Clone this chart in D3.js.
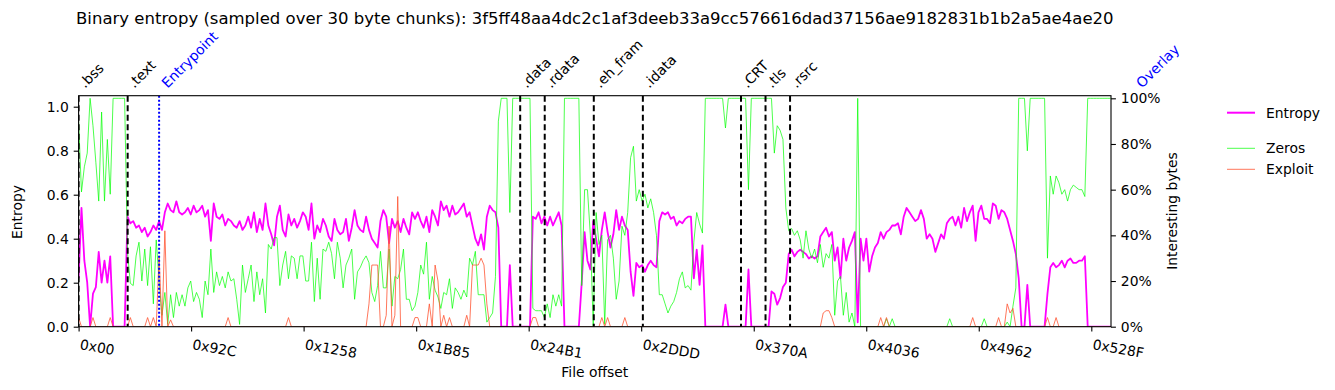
<!DOCTYPE html>
<html>
<head>
<meta charset="utf-8">
<script src="https://cdn.jsdelivr.net/npm/d3@7"></script>
<style>
  body { margin: 0; background: #fff; }
  svg text { font-family: "DejaVu Sans", sans-serif; fill: #000; }
</style>
</head>
<body>
<svg id="chart" width="1335" height="390"></svg>
<script>
var title = "Binary entropy (sampled over 30 byte chunks): 3f5ff48aa4dc2c1af3deeb33a9cc576616dad37156ae9182831b1b2a5ae4ae20";

// one point every 2 chunks of 30 bytes
var chunkStep = 60;
var fileEnd = 21546;

var entropy = [
  0.22,0.54,0.30,0.20,0.00,0.15,0.18,0.34,0.20,0.30,
  0.20,0.32,0,0,0,0,0,0.50,0.47,0.48,
  0.45,0.46,0.43,0.45,0.41,0.43,0.46,0.44,0.48,0.44,
  0.52,0.56,0.53,0.52,0.57,0.52,0.51,0.52,0.54,0.51,
  0.55,0.52,0.53,0.55,0.50,0.53,0.39,0.56,0.50,0.49,
  0.51,0.46,0.49,0.48,0.46,0.45,0.48,0.44,0.46,0.50,
  0.45,0.52,0.43,0.49,0.44,0.56,0.46,0.42,0.37,0.50,
  0.55,0.44,0.41,0.51,0.46,0.49,0.45,0.48,0.52,0.50,
  0.44,0.56,0.40,0.46,0.43,0.49,0.46,0.41,0.39,0.49,
  0.44,0.42,0.43,0.49,0.39,0.45,0.53,0.46,0.44,0.43,
  0.50,0.44,0.40,0.38,0.36,0.48,0.53,0.50,0.38,0.49,
  0.45,0.48,0.43,0.49,0.45,0.42,0.52,0.49,0.52,0.48,
  0.45,0.50,0.43,0.53,0.50,0.46,0.57,0.53,0.55,0.50,
  0.55,0.51,0.52,0.54,0.56,0.50,0.52,0.46,0.40,0.37,
  0.42,0.35,0.50,0.55,0.53,0.52,0.45,0,0,0,
  0.28,0,0,0,0,0,0,0,0.50,0.49,
  0.52,0.47,0.50,0.46,0.50,0.46,0.49,0.52,0.46,0,
  0,0,0,0,0,0.20,0.43,0.30,0.26,0.48,
  0.40,0.32,0.44,0.52,0.43,0.36,0.42,0.53,0.44,0.50,
  0.46,0.44,0.25,0.14,0.29,0.27,0.28,0.25,0.28,0.30,
  0.28,0.27,0.48,0.52,0.51,0.52,0.49,0.50,0.46,0.48,
  0.47,0.49,0.50,0.50,0.22,0.35,0.19,0.37,0,0,
  0,0,0,0,0,0.10,0,0,0,0,
  0,0,0,0.26,0,0,0,0,0,0,
  0,0.16,0.15,0.10,0.13,0.18,0.20,0.33,0.35,0.32,
  0.34,0.35,0.34,0.33,0.31,0.32,0.31,0.32,0.41,0.43,
  0.45,0.41,0.43,0.30,0.36,0.22,0.40,0.30,0.36,0.39,
  0.43,0.02,0.40,0.30,0.40,0.25,0.32,0.36,0.38,0.43,
  0.40,0.43,0.44,0.46,0.46,0.47,0.42,0.50,0.54,0.52,
  0.50,0.48,0.49,0.53,0.49,0.40,0.42,0.40,0.34,0.38,
  0.42,0.40,0.47,0.49,0.50,0.46,0.50,0.45,0.54,0.48,
  0.52,0.55,0.39,0.52,0.55,0.49,0.49,0.47,0.56,0.55,
  0.49,0.53,0.52,0.49,0.44,0.39,0.33,0.22,0,0,
  0.19,0,0,0,0,0,0,0.15,0.27,0.29,
  0.27,0.28,0.30,0.27,0.30,0.31,0.29,0.29,0.30,0.30,
  0.32,0,0,0,0,0,0,0,0,0
];

var zeros = [
  0.90,0.59,0.70,0.76,1.00,0.88,0.72,0.55,0.94,0.55,
  0.82,0.58,1,1,1,1,1,0.33,0.19,0.18,
  0.31,0.37,0.20,0.34,0.18,0.35,0.10,0.38,0.20,0.05,
  0.15,0.01,0.14,0.04,0.15,0.09,0.14,0.09,0.17,0.20,
  0.11,0.15,0.12,0.04,0.20,0.14,0.34,0.15,0.24,0.18,
  0.22,0.17,0.24,0.20,0.21,0.12,0.01,0.27,0.15,0.21,
  0.27,0.11,0.24,0.14,0.21,0.06,0.36,0.34,0.39,0.39,
  0.18,0.27,0.33,0.21,0.31,0.30,0.21,0.31,0.31,0.20,
  0.20,0.37,0.11,0.30,0.12,0.34,0.33,0.37,0.32,0.21,
  0.37,0.30,0.17,0.27,0.30,0.34,0.12,0.24,0.26,0.29,
  0.31,0.28,0.15,0.11,0.18,0.33,0.17,0.17,0.34,0.09,
  0.22,0.21,0.25,0.34,0.12,0.12,0.07,0.09,0.15,0.27,
  0.23,0.37,0.12,0.22,0.16,0.13,0.08,0.15,0.14,0.21,
  0.08,0.17,0.15,0.12,0.16,0.13,0.30,0.27,0.33,0.14,
  0.14,0.14,0.02,0.04,0.06,0.22,0.90,1,1,1,
  0.50,1,1,1,1,1,1,1,0.08,0.07,
  0.07,0.07,0.04,0.10,0.04,0.14,0.09,0.14,0.09,1,
  1,1,1,1,1,0.18,0.60,0.60,0.40,0.00,
  0.50,0.36,0.40,0.01,0.38,0.40,0.30,0.12,0.20,0.44,
  0.40,0.50,0.74,0.79,0.55,0.60,0.55,0.58,0.52,0.56,
  0.50,0.40,0.14,0.14,0.10,0.06,0.09,0.11,0.15,0.21,
  0.24,0.17,0.18,0.16,0.37,0.50,0.45,0.41,1,1,
  1,1,1,1,1,0.87,1,1,1,1,
  1,1,1,0.60,1,1,1,1,1,1,
  1,1,0.76,0.88,0.86,0.82,0.52,0.42,0.43,0.40,
  0.42,0.38,0.30,0.42,0.34,0.30,0.34,0.28,0.36,0.26,
  0.32,0.30,0.36,0.05,0.20,0.22,0.05,0.15,0.02,0.06,
  0,1,0,0,0,0,0,0,0,0,
  0,0.035,0,0.035,0,0,0,0,0,0,
  0,0,0,0,0,0,0,0,0,0,
  0,0,0,0.035,0,0,0,0,0,0,
  0,0,0,0,0,0.035,0,0,0,0,
  0,0,0,0.02,0,0.09,0.17,1,1,1,
  0.77,1,1,1,1,1,1,0.30,0.66,0.58,
  0.66,0.63,0.58,0.60,0.55,0.60,0.62,0.61,0.60,0.60,
  0.57,1,1,1,1,1,1,1,1,1
];

var exploit = [
  0.04,0,0,0,0,0.04,0,0,0,0,
  0,0.04,0,0,0,0,0,0,0.04,0,
  0,0,0,0,0.04,0,0.04,0,0.31,0,
  0.42,0,0.03,0,0,0,0,0,0,0,
  0,0,0,0,0,0,0,0,0,0,
  0,0,0.04,0,0,0,0,0,0,0,
  0,0,0,0,0,0,0,0,0,0,
  0,0,0,0.04,0,0,0,0,0,0,
  0,0,0,0,0,0,0,0,0,0,
  0,0,0,0,0,0,0,0,0,0,
  0,0.10,0.27,0.27,0.27,0,0,0.05,0.44,0,
  0.05,0.57,0,0,0,0,0,0.04,0.04,0,
  0,0,0.10,0,0.27,0.20,0,0.05,0,0.04,
  0,0,0,0,0,0.05,0,0.27,0.27,0.27,
  0.30,0.27,0.10,0,0,0,0,0,0,0,
  0,0,0,0,0,0,0,0,0.04,0.04,
  0,0,0,0,0,0,0,0,0,0,
  0,0,0,0,0,0,0,0,0,0,
  0,0,0.04,0,0.04,0,0,0,0,0,
  0.04,0,0,0,0,0,0,0,0,0,
  0,0,0,0,0,0,0,0,0,0,
  0,0,0,0,0,0,0,0,0,0,
  0,0,0,0,0,0,0,0,0,0,
  0,0,0,0,0,0,0,0,0,0,
  0,0,0,0,0,0,0,0,0,0,
  0,0,0,0,0,0,0,0,0,0.06,
  0.07,0.07,0.04,0,0,0,0,0,0,0,
  0,0,0,0,0,0,0,0,0,0.04,
  0,0.04,0,0,0,0,0,0,0,0,
  0,0,0,0,0,0,0,0,0,0,
  0,0,0,0,0,0,0,0,0,0,
  0,0.04,0,0,0,0,0,0,0,0,
  0.04,0,0,0.10,0.06,0.08,0,0,0,0,
  0,0,0,0,0,0,0,0.04,0,0,
  0.04,0,0,0,0,0,0,0,0,0,
  0,0,0,0,0,0,0,0,0,0
];

var xTickValues = [0, 2348, 4696, 7045, 9393, 11741, 14090, 16438, 18786, 21135];
var xTickLabels = ["0x00", "0x92C", "0x1258", "0x1B85", "0x24B1", "0x2DDD", "0x370A", "0x4036", "0x4962", "0x528F"];
var entropyTicks = [0, 0.2, 0.4, 0.6, 0.8, 1.0];
var percentTicks = [0, 0.2, 0.4, 0.6, 0.8, 1.0];

var sectionNames = [".bss", ".text", ".data", ".rdata", ".eh_fram", ".idata", ".CRT", ".tls", ".rsrc"];
var sectionOffsets = [0x0, 0x400, 0x2400, 0x2600, 0x2A00, 0x2E00, 0x3600, 0x3800, 0x3A00];
var markerNames = ["Entrypoint", "Overlay"];
var markerOffsets = [0x690, 0x5600];

var legendNames = ["Entropy", "Zeros", "Exploit"];

(function() {
  var svg = d3.select("#chart");
  var left = 78.6, right = 1111, top = 95.7, bottom = 326.7;
  var tickFont = 13.9;

  var x = d3.scaleLinear().domain([0, fileEnd]).range([left, right]);
  var yLeft = d3.scaleLinear().domain([0, 1.05]).range([bottom, top]);
  var yRight = d3.scaleLinear().domain([0, 1.0114]).range([bottom, top]);

  svg.append("defs").append("clipPath").attr("id", "plot")
    .append("rect")
    .attr("x", left).attr("y", top)
    .attr("width", right - left).attr("height", bottom - top);

  // title
  svg.append("text")
    .attr("x", (left + right) / 2)
    .attr("y", 24)
    .attr("text-anchor", "middle")
    .style("font-size", "16.5px")
    .text(title);

  var plot = svg.append("g").attr("clip-path", "url(#plot)");

  function series(yScale) {
    return d3.line()
      .x(function(d, i) { return x(i * chunkStep); })
      .y(function(d) { return yScale(d); });
  }

  plot.append("path")
    .attr("d", series(yLeft)(entropy))
    .attr("fill", "none")
    .attr("stroke", "#ff00ff")
    .attr("stroke-width", 1.8)
    .attr("stroke-linejoin", "round");

  plot.append("path")
    .attr("d", series(yRight)(zeros))
    .attr("fill", "none")
    .attr("stroke", "#00ff00")
    .attr("stroke-opacity", 0.7)
    .attr("stroke-width", 1)
    .attr("stroke-linejoin", "round");

  plot.append("path")
    .attr("d", series(yRight)(exploit))
    .attr("fill", "none")
    .attr("stroke", "#ff5533")
    .attr("stroke-opacity", 0.8)
    .attr("stroke-width", 1)
    .attr("stroke-linejoin", "round");

  // section boundaries
  plot.selectAll("line.section")
    .data(sectionOffsets)
    .enter()
    .append("line")
    .attr("class", "section")
    .attr("x1", function(d) { return x(d); })
    .attr("x2", function(d) { return x(d); })
    .attr("y1", top).attr("y2", bottom)
    .attr("stroke", "#000")
    .attr("stroke-width", 2)
    .attr("stroke-dasharray", "6,3.5");

  plot.selectAll("line.marker")
    .data(markerOffsets)
    .enter()
    .append("line")
    .attr("class", "marker")
    .attr("x1", function(d) { return x(d); })
    .attr("x2", function(d) { return x(d); })
    .attr("y1", top).attr("y2", bottom)
    .attr("stroke", "#0000ff")
    .attr("stroke-width", 2)
    .attr("stroke-dasharray", "2,2");

  // frame
  svg.append("rect")
    .attr("x", left).attr("y", top)
    .attr("width", right - left).attr("height", bottom - top)
    .attr("fill", "none")
    .attr("stroke", "#000")
    .attr("stroke-width", 1.1);

  // section labels
  svg.selectAll("text.section")
    .data(sectionNames)
    .enter()
    .append("text")
    .attr("class", "section")
    .attr("transform", function(d, i) {
      return "translate(" + (x(sectionOffsets[i]) + 6.5) + "," + (top - 7) + ") rotate(-45)";
    })
    .style("font-size", tickFont + "px")
    .text(function(d) { return d; });

  svg.selectAll("text.marker")
    .data(markerNames)
    .enter()
    .append("text")
    .attr("class", "marker")
    .attr("transform", function(d, i) {
      return "translate(" + (x(markerOffsets[i]) + 8.5) + "," + (top - 7) + ") rotate(-45)";
    })
    .style("font-size", tickFont + "px")
    .style("fill", "#0000ff")
    .text(function(d) { return d; });

  // axes
  var xAxis = svg.append("g")
    .attr("transform", "translate(0," + bottom + ")")
    .call(d3.axisBottom(x)
      .tickValues(xTickValues)
      .tickFormat(function(d, i) { return xTickLabels[i]; })
      .tickSize(4.9));
  xAxis.selectAll("text")
    .attr("y", 10.1)
    .attr("dy", null)
    .attr("x", 0)
    .attr("text-anchor", "start")
    .attr("transform", "translate(2,12.3) rotate(10)");

  var yAxisLeft = svg.append("g")
    .attr("transform", "translate(" + left + ",0)")
    .call(d3.axisLeft(yLeft)
      .tickValues(entropyTicks)
      .tickFormat(d3.format(".1f"))
      .tickSize(4.9)
      .tickPadding(4.9));

  var yAxisRight = svg.append("g")
    .attr("transform", "translate(" + right + ",0)")
    .call(d3.axisRight(yRight)
      .tickValues(percentTicks)
      .tickFormat(d3.format(".0%"))
      .tickSize(4.9)
      .tickPadding(4.9));

  [xAxis, yAxisLeft, yAxisRight].forEach(function(g) {
    g.select(".domain").remove();
    g.selectAll("line").attr("stroke", "#000").attr("stroke-width", 1.1);
    g.selectAll("text")
      .style("font-family", "DejaVu Sans, sans-serif")
      .style("font-size", tickFont + "px")
      .attr("fill", "#000");
  });

  // axis titles
  svg.append("text")
    .attr("x", (left + right) / 2)
    .attr("y", 377)
    .attr("text-anchor", "middle")
    .style("font-size", tickFont + "px")
    .text("File offset");

  svg.append("text")
    .attr("transform", "translate(22,212) rotate(-90)")
    .attr("text-anchor", "middle")
    .style("font-size", tickFont + "px")
    .text("Entropy");

  svg.append("text")
    .attr("transform", "translate(1177,211) rotate(-90)")
    .attr("text-anchor", "middle")
    .style("font-size", tickFont + "px")
    .text("Interesting bytes");

  // legend
  var legendY = [112.7, 148.3, 169.3];
  var legendStroke = ["#ff00ff", "#00ff00", "#ff5533"];
  var legendOpacity = [1, 0.7, 0.8];
  var legendWidth = [2, 1, 1];
  var legend = svg.append("g");
  legend.selectAll("line")
    .data(legendNames)
    .enter()
    .append("line")
    .attr("x1", 1227).attr("x2", 1255)
    .attr("y1", function(d, i) { return legendY[i]; })
    .attr("y2", function(d, i) { return legendY[i]; })
    .attr("stroke", function(d, i) { return legendStroke[i]; })
    .attr("stroke-opacity", function(d, i) { return legendOpacity[i]; })
    .attr("stroke-width", function(d, i) { return legendWidth[i]; });
  legend.selectAll("text")
    .data(legendNames)
    .enter()
    .append("text")
    .attr("x", 1266)
    .attr("y", function(d, i) { return legendY[i]; })
    .attr("dy", "0.36em")
    .style("font-size", tickFont + "px")
    .text(function(d) { return d; });
})();
</script>
</body>
</html>
